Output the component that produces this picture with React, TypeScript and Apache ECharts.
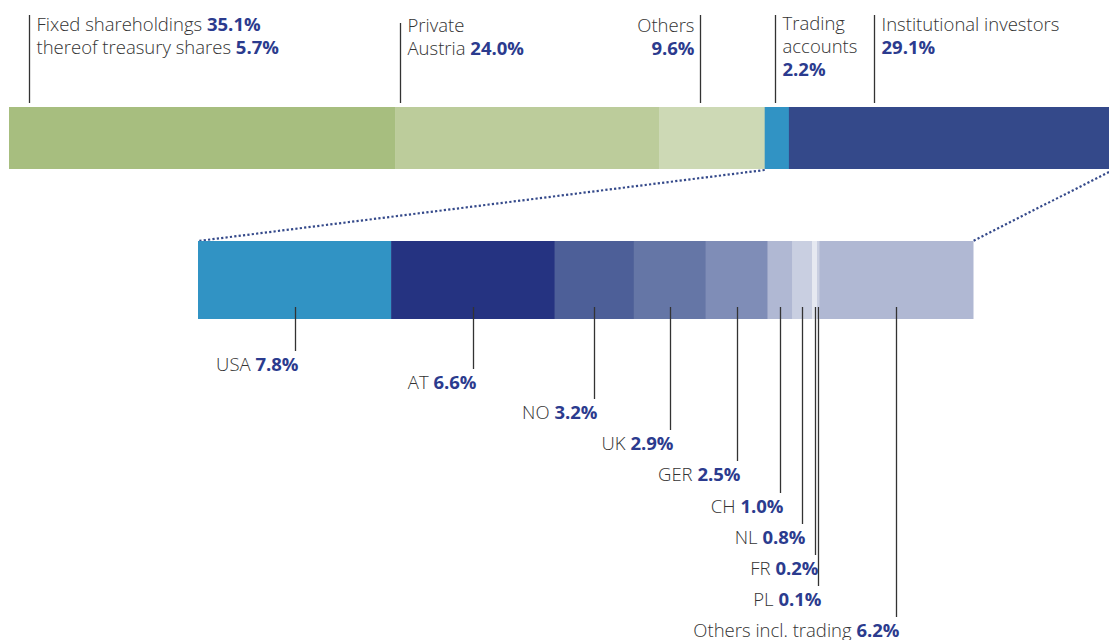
import React, { useEffect, useRef } from "react";
import * as echarts from "echarts";

// ---------- data ----------
const topCategories = ["Fixed shareholdings", "Private Austria", "Others", "Trading accounts", "Institutional investors"];
const topValues = [35.1, 24.0, 9.6, 2.2, 29.1];
const treasuryShares = 5.7;

const bottomCategories = ["USA", "AT", "NO", "UK", "GER", "CH", "NL", "FR", "PL", "Others incl. trading"];
const bottomValues = [7.8, 6.6, 3.2, 2.9, 2.5, 1.0, 0.8, 0.2, 0.1, 6.2];

// ---------- styles / layout ----------
const topColors = ["#a7be7f", "#bccc9b", "#cdd9b5", "#3193c4", "#34498a"];
const bottomColors = ["#3193c4", "#253381", "#4d5f98", "#6576a6", "#7f8db7", "#b0b8d3", "#c9cfe1", "#e6e9f1", "#c9cfe1", "#b0b8d3"];
const topLeaderOffset = [20, 5, 41, 10, 85]; // px from segment start
const topLeaderTop = [15, 23, 15, 15, 15];
const topTextTop = [11.5, 12.5, 12.5, 10.5, 11.5];
const topTextAlign = ["left", "left", "right", "left", "left"];
const bottomLabelY = [363, 381, 411, 442, 473, 505, 536, 567, 598, 629];

const TEXT = "#333333";
const NUM = "#2b3b8e";
const FONT = "'Open Sans', Lato, sans-serif";
const FS = 18.5;

const pct = (v: number) => v.toFixed(1) + "%";

function topLabel(i: number): string {
  const v = pct(topValues[i]);
  switch (i) {
    case 0:
      return `{t|Fixed shareholdings }{v|${v}}\n{t|thereof treasury shares }{v|${pct(treasuryShares)}}`;
    case 1:
      return `{t|Private}\n{t|Austria }{v|${v}}`;
    case 2:
      return `{t|${topCategories[2]}}\n{v|${v}}`;
    case 3:
      return `{t|Trading}\n{t|accounts}\n{v|${v}}`;
    default:
      return `{t|${topCategories[i]}}\n{v|${v}}`;
  }
}

const rich = {
  t: { fill: TEXT, color: TEXT, fontFamily: FONT, fontSize: FS, fontWeight: 300, lineHeight: 23 },
  v: { fill: NUM, color: NUM, fontFamily: FONT, fontSize: FS, fontWeight: "bold", lineHeight: 23 },
};

function cumulate(vals: number[]) {
  let acc = 0;
  return vals.map((v, i) => {
    const s = acc;
    acc += v;
    return [s, acc, i, 0];
  });
}

export default function App() {
  const ref = useRef<HTMLDivElement>(null);

  useEffect(() => {
    if (!ref.current) return;
    const chart = echarts.init(ref.current, undefined, { renderer: "svg" });
    const topTotal = topValues.reduce((a, b) => a + b, 0);
    const bottomTotal = bottomValues.reduce((a, b) => a + b, 0);

    const topRender = (params: any, api: any) => {
      const i = api.value(2);
      const p0 = api.coord([api.value(0), 0]);
      const p1 = api.coord([api.value(1), 0]);
      const h = api.size([0, 1])[1];
      const y0 = p0[1] - h / 2;
      const lx = Math.round(p0[0] + topLeaderOffset[i]) + 0.5;
      const left = topTextAlign[i] === "left";
      return {
        type: "group",
        children: [
          {
            type: "rect",
            shape: { x: p0[0], y: y0, width: p1[0] - p0[0] + 0.5, height: h },
            style: { fill: topColors[i] },
            silent: true,
          },
          {
            type: "line",
            shape: { x1: lx, y1: topLeaderTop[i], x2: lx, y2: y0 - 4 },
            style: { stroke: "#333", lineWidth: 1.3 },
            silent: true,
          },
          {
            type: "text",
            x: left ? lx + 7 : lx - 6,
            y: topTextTop[i],
            style: {
              text: topLabel(i),
              rich,
              fill: TEXT,
              align: left ? "left" : "right",
              verticalAlign: "top",
              fontFamily: FONT,
              fontSize: FS,
            },
            silent: true,
          },
        ],
      };
    };

    const bottomRender = (params: any, api: any) => {
      const i = api.value(2);
      const p0 = api.coord([api.value(0), 0]);
      const p1 = api.coord([api.value(1), 0]);
      const h = api.size([0, 1])[1];
      const y0 = p0[1] - h / 2;
      const lx = Math.round((p0[0] + p1[0]) / 2) + 0.5;
      const ly = bottomLabelY[i];
      return {
        type: "group",
        children: [
          {
            type: "rect",
            shape: { x: p0[0], y: y0, width: p1[0] - p0[0] + 0.5, height: h },
            style: { fill: bottomColors[i] },
            silent: true,
          },
          {
            type: "line",
            shape: { x1: lx, y1: y0 + h - 12, x2: lx, y2: ly - 12 },
            style: { stroke: "#333", lineWidth: 1.3 },
            silent: true,
          },
          {
            type: "text",
            x: lx + 3,
            y: ly,
            style: {
              text: `{t|${bottomCategories[i]} }{v|${pct(bottomValues[i])}}`,
              rich,
              fill: TEXT,
              align: "right",
              verticalAlign: "middle",
              fontFamily: FONT,
              fontSize: FS,
            },
            silent: true,
          },
        ],
      };
    };

    chart.setOption({
      animation: false,
      grid: [
        { left: 9, top: 107, width: 1100, height: 62 },
        { left: 198, top: 241, width: 775, height: 78 },
      ],
      xAxis: [
        { type: "value", gridIndex: 0, min: 0, max: topTotal, show: false },
        { type: "value", gridIndex: 1, min: 0, max: bottomTotal, show: false },
      ],
      yAxis: [
        { type: "category", gridIndex: 0, data: ["shareholders"], show: false },
        { type: "category", gridIndex: 1, data: ["institutional"], show: false },
      ],
      series: [
        {
          type: "custom",
          xAxisIndex: 0,
          yAxisIndex: 0,
          data: cumulate(topValues),
          encode: { x: [0, 1], y: 3 },
          renderItem: topRender,
          clip: false,
        },
        {
          type: "custom",
          xAxisIndex: 1,
          yAxisIndex: 1,
          data: cumulate(bottomValues),
          encode: { x: [0, 1], y: 3 },
          renderItem: bottomRender,
          clip: false,
        },
      ],
    });

    // connecting dotted lines: from trading accounts start / bar end on top to bottom bar edges
    const tradingStart = topValues.slice(0, 3).reduce((a, b) => a + b, 0);
    const tA = chart.convertToPixel({ xAxisIndex: 0, yAxisIndex: 0 } as any, [tradingStart, 0]) as number[];
    const tB = chart.convertToPixel({ xAxisIndex: 0, yAxisIndex: 0 } as any, [topTotal, 0]) as number[];
    const bA = chart.convertToPixel({ xAxisIndex: 1, yAxisIndex: 1 } as any, [0, 0]) as number[];
    const bB = chart.convertToPixel({ xAxisIndex: 1, yAxisIndex: 1 } as any, [bottomTotal, 0]) as number[];
    const topBottomY = tA[1] + 31 + 1;
    const botTopY = bA[1] - 39;
    const dot = { stroke: "#34498a", lineWidth: 2.2, lineDash: [2.2, 2.2] };
    chart.setOption({
      graphic: [
        { type: "line", shape: { x1: tA[0], y1: topBottomY, x2: bA[0], y2: botTopY }, style: dot, silent: true },
        { type: "line", shape: { x1: tB[0], y1: topBottomY + 2, x2: bB[0], y2: botTopY }, style: dot, silent: true },
      ],
    });

    return () => chart.dispose();
  }, []);

  return (
    <div
      ref={ref}
      style={{ position: "fixed", left: 0, top: 0, width: 1109, height: 640, background: "#fff" }}
    />
  );
}
